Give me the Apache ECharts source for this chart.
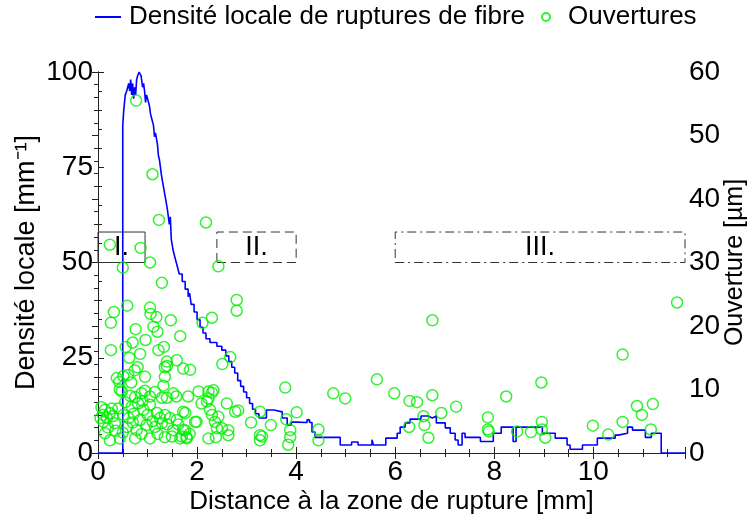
<!DOCTYPE html>
<html><head><meta charset="utf-8">
<script src="https://cdn.jsdelivr.net/npm/echarts@6/dist/echarts.min.js"></script>
<style>html,body{margin:0;padding:0;background:#fff}#c{width:749px;height:518px}</style>
</head><body><div id="c"></div>
<script>
// x ticks
const xTicks = [0, 2, 4, 6, 8, 10];
const xMax = 11.85;
// Local density of fibre breaks [mm^-1] — step profile [x(mm), density]
const densX = [0,0.50,0.52,0.55,0.58,0.62,0.64,0.66,0.68,0.70,0.72,0.74,0.76,0.78,0.80,0.83,0.87,0.90,0.92,0.94,0.96,0.98,1.00,1.04,1.06,1.08,1.12,1.14,1.16,1.20,1.22,1.24,1.28,1.32,1.36,1.40,1.44,1.46,1.48,1.52,1.56,1.60,1.64,1.70,1.76,1.82,1.85,1.88,1.94,2.00,2.06,2.12,2.18,2.26,2.40,2.50,2.58,2.64,2.70,2.76,2.82,2.88,2.94,3.00,3.06,3.12,3.18,3.25,3.40,3.55,3.72,3.82,3.90,4.00,4.22,4.27,4.32,4.38,4.89,5.12,5.25,5.53,5.56,5.81,6.04,6.10,6.20,6.30,6.52,6.66,6.75,6.83,7.01,7.11,7.21,7.27,7.35,7.41,7.72,7.98,8.14,8.38,8.44,8.97,9.23,9.47,9.53,9.78,10.08,10.44,10.50,10.69,10.79,11.05,11.17,11.37,11.85];
const densY = [0,86,90,94,95,97,95,98,94,97,93,96,94,98,99,100,99,96,97,95,92,94,93,91,89,88,86,83,84,81,78,77,73,70,67,64,60,62,56,53,51,49,47,45,43,41,42,39,37,35,33,31.5,30,29,28,27,25.5,24,22.5,21,19,17.5,16,14.5,13,11.5,10.3,9.2,11.3,10.8,9.2,7.3,8.1,8.0,8.7,8.0,5.5,4.1,2.1,2.9,2.1,3.5,2.1,3.9,5.2,6.8,7.9,8.9,9.7,9.2,9.7,7.9,6.6,5.2,3.4,2.1,5.2,4.1,3.0,5.2,6.8,3.0,6.8,5.2,3.9,2.1,1.0,2.1,3.9,4.7,5.2,6.8,6.0,4.1,5.2,0,0];
// Openings [µm] — scatter [x(mm), opening]
const openX = [0.77,1.10,1.23,2.18,0.24,0.86,1.05,2.43,0.50,2.80,2.80,1.29,0.59,0.32,0.26,1.05,1.06,1.18,1.12,1.20,1.47,0.76,1.66,0.96,0.70,0.56,0.26,0.85,1.22,1.33,0.63,1.59,1.39,1.35,0.80,0.74,1.72,1.86,2.30,2.11,2.67,2.51,
1.39,0.38,0.61,0.95,1.35,0.43,0.67,0.51,1.32,0.48,0.44,0.88,0.75,1.05,1.29,1.39,1.52,1.82,1.58,2.03,2.23,2.33,2.30,2.23,2.09,2.20,2.60,3.78,
0.14,0.24,0.41,0.51,0.68,0.81,0.92,1.05,1.19,1.35,1.45,1.59,1.72,1.96,0.11,0.34,0.58,0.78,0.98,1.15,1.29,1.52,1.72,0.14,0.24,0.44,0.75,1.05,1.49,1.66,1.79,2.23,
0.10,0.18,0.30,0.62,0.72,0.85,0.90,1.00,1.10,1.25,1.40,0.55,0.65,0.95,1.15,0.35,0.50,0.70,0.88,1.20,1.35,0.20,1.62,1.85,0.28,0.05,0.07,
2.77,2.83,3.27,2.26,2.30,2.43,1.99,2.36,2.40,2.50,2.63,2.63,2.38,3.09,3.27,3.31,3.27,3.49,3.80,3.88,3.88,3.84,4.01,1.76,1.79,1.69,1.76,
4.45,4.45,4.75,4.99,5.63,5.98,6.29,6.44,6.28,6.57,6.59,6.75,6.75,6.67,6.93,7.23,7.87,7.87,7.89,8.24,8.46,8.74,8.95,8.96,8.96,9.03,9.99,10.30,10.59,10.59,10.88,10.98,11.20,11.16,11.69,11.86];
const openY = [55.5,43.9,36.7,36.3,32.8,32.3,30.0,29.4,29.2,24.1,22.4,26.8,23.2,22.2,20.5,22.9,21.9,21.4,19.9,19.1,20.9,19.5,18.4,17.8,17.4,16.7,16.2,15.6,16.2,16.7,15.0,14.6,14.4,13.5,13.5,13.0,13.3,13.1,21.3,20.5,15.1,14.0,
13.7,11.8,12.3,12.0,12.0,11.2,11.1,12.1,10.6,9.7,10.0,9.4,8.8,8.9,8.7,8.7,9.4,8.9,8.9,9.7,9.7,9.9,9.5,8.6,7.8,8.1,7.8,10.3,
6.8,6.3,7.0,6.0,7.3,7.8,6.8,7.6,6.3,6.0,5.5,5.2,6.5,4.9,4.9,4.7,4.1,3.6,4.4,4.1,4.7,3.6,3.6,3.1,2.0,2.3,2.3,2.3,2.6,2.3,2.3,2.3,
6.0,5.5,5.8,5.5,6.2,5.2,8.2,6.0,5.0,5.5,4.5,8.0,9.0,9.8,9.6,3.5,3.2,4.8,3.0,3.0,2.5,4.0,4.5,3.0,7.0,5.5,7.2,
6.5,6.7,6.5,6.8,6.0,5.7,4.9,4.9,3.9,3.9,3.6,2.8,2.5,4.8,2.8,2.6,2.0,4.4,5.3,3.6,2.5,1.3,6.4,3.6,2.5,2.6,6.3,
3.7,2.0,9.4,8.6,11.6,9.4,8.2,8.0,4.1,5.8,4.4,20.9,9.1,2.4,6.3,7.3,5.6,3.7,3.4,8.9,3.4,3.3,11.1,4.9,3.7,2.4,4.3,2.9,15.5,4.9,7.4,6.0,7.7,3.7,23.7,3.7];
// zones
const zoneNames = ['I.', 'II.', 'III.'];
const zoneX = [[0, 0.95], [2.4, 4.0], [6.0, 11.85]];
const zoneY = [50, 58];

const FONT = 'Liberation Sans';
const axisCol = '#222';
const chart = echarts.init(document.getElementById('c'));
const dens = densX.map((x, i) => [x, densY[i]]);
const open = openX.map((x, i) => [x, openY[i]]);
const zoneStyles = [
  {type: 'solid'}, {type: [9, 5]}, {type: [9, 4, 2, 4]}
];
const markData = zoneNames.map((n, i) => [
  {name: n, coord: [zoneX[i][0], zoneY[0]], itemStyle: {color: 'rgba(0,0,0,0)', borderColor: '#333', borderWidth: 1, borderType: zoneStyles[i].type}},
  {coord: [zoneX[i][1], zoneY[1]]}
]);
const xCommon = {
  type: 'value', min: 0, max: xMax, interval: 2,
  axisLine: {show: true, lineStyle: {color: axisCol, width: 1}},
  axisTick: {show: true, inside: true, length: 6, lineStyle: {color: axisCol}},
  minorTick: {show: true, splitNumber: 4, length: 4, lineStyle: {color: axisCol}},
  splitLine: {show: false}
};
chart.setOption({
  animation: false,
  backgroundColor: '#fff',
  textStyle: {fontFamily: FONT},
  grid: {left: 98, right: 64, top: 72, bottom: 65, containLabel: false, outerBoundsMode: 'none'},
  legend: [
    {left: 94, top: 4, padding: 0, itemWidth: 26, itemHeight: 2, itemGap: 8, data: ['Densité locale de ruptures de fibre'],
     textStyle: {fontSize: 26, color: '#000', fontFamily: FONT, padding: [0, 0, 0, 3]}},
    {left: 541, top: 4, padding: 0, itemWidth: 8, itemHeight: 8, data: [{name: 'Ouvertures', icon: 'circle'}],
     textStyle: {fontSize: 26, color: '#000', fontFamily: FONT, padding: [0, 0, 0, 13]}}
  ],
  xAxis: [
    Object.assign({}, xCommon, {
      position: 'bottom',
      name: 'Distance à la zone de rupture [mm]', nameLocation: 'middle', nameGap: 36, nameMoveOverlap: false,
      nameTextStyle: {fontSize: 26, color: '#000', fontFamily: FONT},
      axisLabel: {fontSize: 28, color: '#000', margin: 5,
        formatter: v => (xTicks.indexOf(Math.round(v * 1000) / 1000) >= 0 ? String(v) : '')}
    }),
    Object.assign({}, xCommon, {position: 'top', axisLabel: {show: false}})
  ],
  yAxis: [
    {type: 'value', min: 0, max: 100, interval: 25, position: 'left',
     name: 'Densité locale [mm⁻¹]', nameLocation: 'middle', nameGap: 58, nameMoveOverlap: false,
     nameTextStyle: {fontSize: 27, color: '#000', fontFamily: FONT},
     axisLine: {show: true, lineStyle: {color: axisCol}},
     axisTick: {show: true, inside: true, length: 6, lineStyle: {color: axisCol}},
     minorTick: {show: true, splitNumber: 5, length: 4, lineStyle: {color: axisCol}},
     axisLabel: {fontSize: 28, color: '#000', margin: 5},
     splitLine: {show: false}},
    {type: 'value', min: 0, max: 60, interval: 10, position: 'right',
     name: 'Ouverture [µm]', nameLocation: 'middle', nameGap: 38, nameRotate: 90, nameMoveOverlap: false,
     nameTextStyle: {fontSize: 25, color: '#000', fontFamily: FONT},
     axisLine: {show: true, lineStyle: {color: axisCol}},
     axisTick: {show: true, inside: true, length: 6, lineStyle: {color: axisCol}},
     minorTick: {show: true, splitNumber: 5, length: 4, lineStyle: {color: axisCol}},
     axisLabel: {fontSize: 28, color: '#000', margin: 4},
     splitLine: {show: false}}
  ],
  series: [
    {name: 'Densité locale de ruptures de fibre', type: 'line', step: 'end', data: dens,
     xAxisIndex: 0, yAxisIndex: 0, symbol: 'none', z: 3,
     lineStyle: {color: '#0000ff', width: 1.6}, itemStyle: {color: '#0000ff'},
     markArea: {silent: true, label: {show: true, position: 'inside', fontSize: 27, color: '#000', fontFamily: FONT}, data: markData}},
    {name: 'Ouvertures', type: 'scatter', data: open, xAxisIndex: 0, yAxisIndex: 1,
     symbol: 'circle', symbolSize: 11, z: 4,
     itemStyle: {color: 'rgba(0,0,0,0)', borderColor: '#00ee00', borderWidth: 1.5}}
  ]
});
</script></body></html>
